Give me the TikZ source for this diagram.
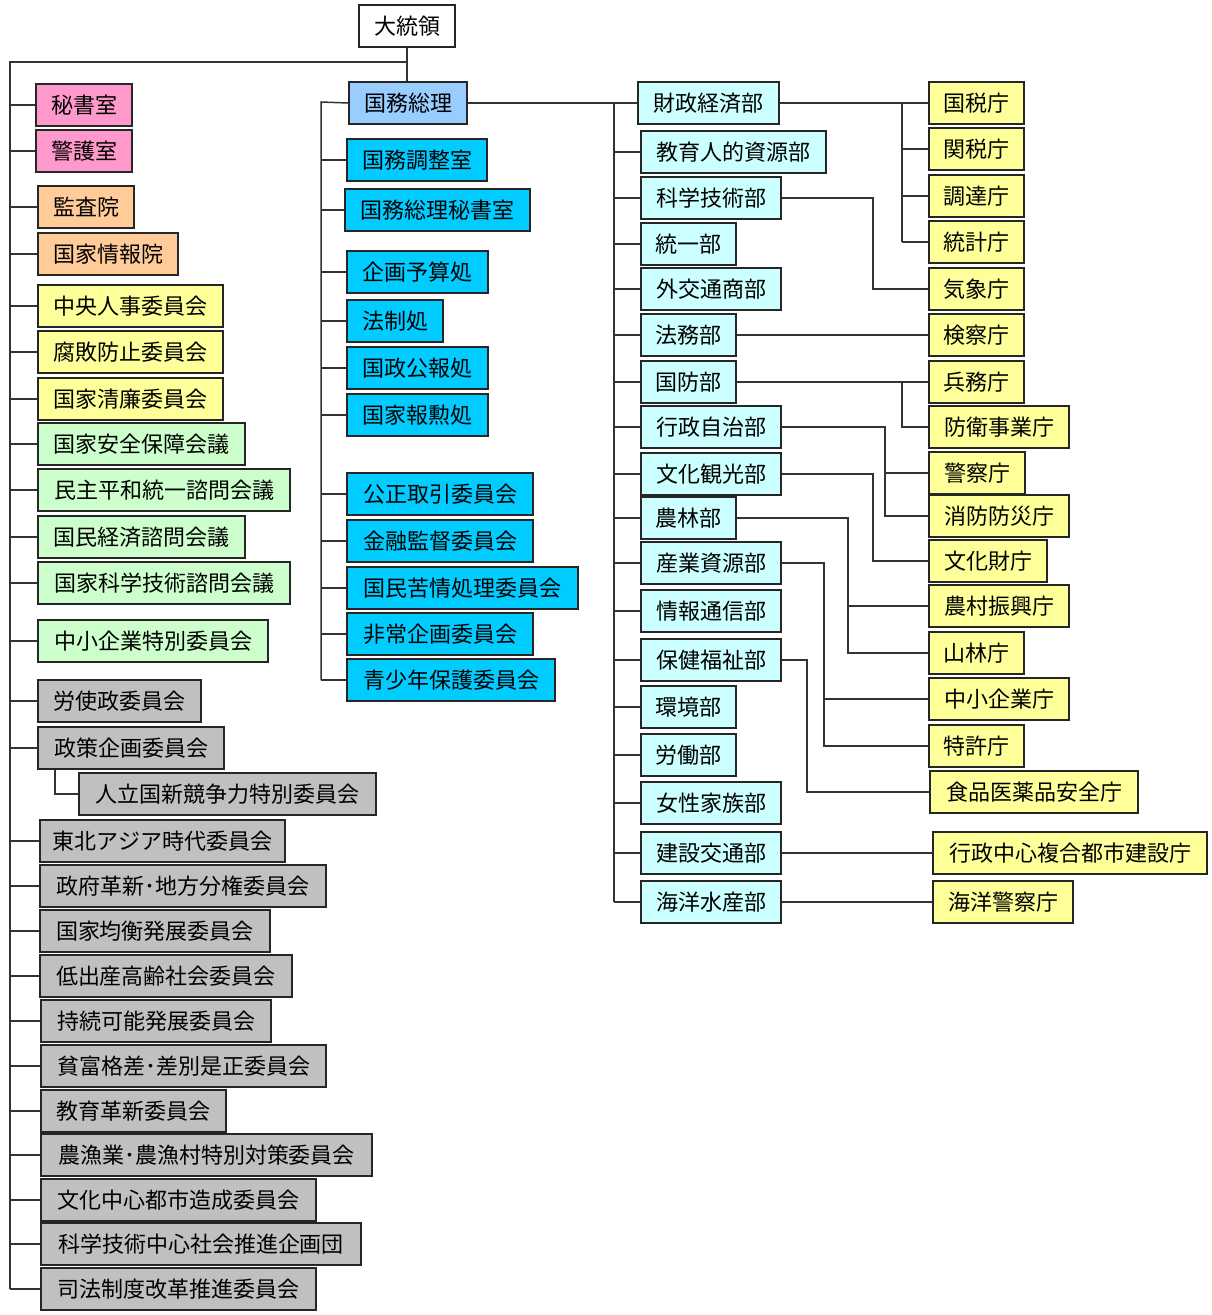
\documentclass[tikz,border=0pt]{standalone}
\usepackage{fontspec}
\newfontfamily\jp{Noto Sans CJK JP}
\definecolor{pinkbox}{HTML}{FF99CC}
\definecolor{orangebox}{HTML}{FFCC99}
\definecolor{yellowbox}{HTML}{FFFF99}
\definecolor{greenbox}{HTML}{CCFFCC}
\definecolor{greybox}{HTML}{C0C0C0}
\definecolor{pmbox}{HTML}{99CCFF}
\definecolor{bluebox}{HTML}{00CCFF}
\definecolor{cyanbox}{HTML}{CCFFFF}
\begin{document}
\begin{tikzpicture}[x=1pt, y=-1pt,
    box/.style={draw=black!85, line width=2pt, anchor=north west, minimum height=42pt,
      inner sep=0pt, font=\jp\fontsize{22pt}{26pt}\selectfont},
    conn/.style={draw=black!80, line width=1.5pt}]
    \useasboundingbox (0,0) rectangle (1211,1315);

    % president and prime minister
    \node (P) [box, fill=white, minimum width=96pt] at (358,4) {大統領};
    \node (PM) [box, fill=pmbox, minimum width=118pt] at (348,81) {国務総理};

    % left column
    \node (L1) [box, fill=pinkbox, minimum width=96pt] at (35,83) {秘書室};
    \node (L2) [box, fill=pinkbox, minimum width=96pt] at (35,129) {警護室};
    \node (L3) [box, fill=orangebox, minimum width=96pt] at (37,185) {監査院};
    \node (L4) [box, fill=orangebox, minimum width=140pt] at (37,232) {国家情報院};
    \node (L5) [box, fill=yellowbox, minimum width=185pt] at (37,284) {中央人事委員会};
    \node (L6) [box, fill=yellowbox, minimum width=185pt] at (37,330) {腐敗防止委員会};
    \node (L7) [box, fill=yellowbox, minimum width=185pt] at (37,377) {国家清廉委員会};
    \node (L8) [box, fill=greenbox, minimum width=207pt] at (37,422) {国家安全保障会議};
    \node (L9) [box, fill=greenbox, minimum width=252pt] at (37,468) {民主平和統一諮問会議};
    \node (L10) [box, fill=greenbox, minimum width=207pt] at (37,515) {国民経済諮問会議};
    \node (L11) [box, fill=greenbox, minimum width=252pt] at (37,561) {国家科学技術諮問会議};
    \node (L12) [box, fill=greenbox, minimum width=230pt] at (37,619) {中小企業特別委員会};
    \node (L13) [box, fill=greybox, minimum width=163pt] at (37,679) {労使政委員会};
    \node (L14) [box, fill=greybox, minimum width=186pt] at (37,726) {政策企画委員会};
    \node (LS) [box, fill=greybox, minimum width=297pt] at (78,772) {人立国新競争力特別委員会};
    \node (L15) [box, fill=greybox, minimum width=245pt] at (39,819) {東北アジア時代委員会};
    \node (L16) [box, fill=greybox, minimum width=286pt] at (39,864) {政府革新･地方分権委員会};
    \node (L17) [box, fill=greybox, minimum width=230pt] at (39,909) {国家均衡発展委員会};
    \node (L18) [box, fill=greybox, minimum width=252pt] at (39,954) {低出産高齢社会委員会};
    \node (L19) [box, fill=greybox, minimum width=230pt] at (40,999) {持続可能発展委員会};
    \node (L20) [box, fill=greybox, minimum width=285pt] at (40,1044) {貧富格差･差別是正委員会};
    \node (L21) [box, fill=greybox, minimum width=185pt] at (40,1089) {教育革新委員会};
    \node (L22) [box, fill=greybox, minimum width=331pt] at (40,1133) {農漁業･農漁村特別対策委員会};
    \node (L23) [box, fill=greybox, minimum width=275pt] at (40,1178) {文化中心都市造成委員会};
    \node (L24) [box, fill=greybox, minimum width=320pt] at (40,1222) {科学技術中心社会推進企画団};
    \node (L25) [box, fill=greybox, minimum width=275pt] at (40,1267) {司法制度改革推進委員会};

    % prime minister's offices
    \node (C1) [box, fill=bluebox, minimum width=140pt] at (346,138) {国務調整室};
    \node (C2) [box, fill=bluebox, minimum width=185pt] at (344,188) {国務総理秘書室};
    \node (C3) [box, fill=bluebox, minimum width=141pt] at (346,250) {企画予算処};
    \node (C4) [box, fill=bluebox, minimum width=96pt] at (346,299) {法制処};
    \node (C5) [box, fill=bluebox, minimum width=141pt] at (346,346) {国政公報処};
    \node (C6) [box, fill=bluebox, minimum width=141pt] at (346,393) {国家報勲処};
    \node (C7) [box, fill=bluebox, minimum width=186pt] at (346,472) {公正取引委員会};
    \node (C8) [box, fill=bluebox, minimum width=186pt] at (346,519) {金融監督委員会};
    \node (C9) [box, fill=bluebox, minimum width=231pt] at (346,566) {国民苦情処理委員会};
    \node (C10) [box, fill=bluebox, minimum width=186pt] at (346,612) {非常企画委員会};
    \node (C11) [box, fill=bluebox, minimum width=208pt] at (346,658) {青少年保護委員会};

    % ministries
    \node (M1) [box, fill=cyanbox, minimum width=141pt] at (637,81) {財政経済部};
    \node (M2) [box, fill=cyanbox, minimum width=185pt] at (640,130) {教育人的資源部};
    \node (M3) [box, fill=cyanbox, minimum width=140pt] at (640,176) {科学技術部};
    \node (M4) [box, fill=cyanbox, minimum width=95pt] at (640,222) {統一部};
    \node (M5) [box, fill=cyanbox, minimum width=140pt] at (640,267) {外交通商部};
    \node (M6) [box, fill=cyanbox, minimum width=95pt] at (640,313) {法務部};
    \node (M7) [box, fill=cyanbox, minimum width=95pt] at (640,360) {国防部};
    \node (M8) [box, fill=cyanbox, minimum width=140pt] at (640,405) {行政自治部};
    \node (M9) [box, fill=cyanbox, minimum width=140pt] at (640,452) {文化観光部};
    \node (M10) [box, fill=cyanbox, minimum width=95pt] at (640,496) {農林部};
    \node (M11) [box, fill=cyanbox, minimum width=140pt] at (640,541) {産業資源部};
    \node (M12) [box, fill=cyanbox, minimum width=140pt] at (640,589) {情報通信部};
    \node (M13) [box, fill=cyanbox, minimum width=140pt] at (640,638) {保健福祉部};
    \node (M14) [box, fill=cyanbox, minimum width=95pt] at (640,685) {環境部};
    \node (M15) [box, fill=cyanbox, minimum width=95pt] at (640,733) {労働部};
    \node (M16) [box, fill=cyanbox, minimum width=140pt] at (640,781) {女性家族部};
    \node (M17) [box, fill=cyanbox, minimum width=140pt] at (640,831) {建設交通部};
    \node (M18) [box, fill=cyanbox, minimum width=140pt] at (640,880) {海洋水産部};

    % agencies
    \node (A1) [box, fill=yellowbox, minimum width=95pt] at (928,81) {国税庁};
    \node (A2) [box, fill=yellowbox, minimum width=95pt] at (928,127) {関税庁};
    \node (A3) [box, fill=yellowbox, minimum width=95pt] at (928,174) {調達庁};
    \node (A4) [box, fill=yellowbox, minimum width=95pt] at (928,220) {統計庁};
    \node (A5) [box, fill=yellowbox, minimum width=95pt] at (928,267) {気象庁};
    \node (A6) [box, fill=yellowbox, minimum width=95pt] at (928,313) {検察庁};
    \node (A7) [box, fill=yellowbox, minimum width=95pt] at (928,360) {兵務庁};
    \node (A8) [box, fill=yellowbox, minimum width=140pt] at (928,405) {防衛事業庁};
    \node (A9) [box, fill=yellowbox, minimum width=96pt] at (928,451) {警察庁};
    \node (A10) [box, fill=yellowbox, minimum width=140pt] at (928,494) {消防防災庁};
    \node (A11) [box, fill=yellowbox, minimum width=118pt] at (928,539) {文化財庁};
    \node (A12) [box, fill=yellowbox, minimum width=140pt] at (928,584) {農村振興庁};
    \node (A13) [box, fill=yellowbox, minimum width=95pt] at (928,631) {山林庁};
    \node (A14) [box, fill=yellowbox, minimum width=140pt] at (928,677) {中小企業庁};
    \node (A15) [box, fill=yellowbox, minimum width=95pt] at (928,724) {特許庁};
    \node (A16) [box, fill=yellowbox, minimum width=208pt] at (929,770) {食品医薬品安全庁};
    \node (A17) [box, fill=yellowbox, minimum width=274pt] at (932,831) {行政中心複合都市建設庁};
    \node (A18) [box, fill=yellowbox, minimum width=140pt] at (932,880) {海洋警察庁};

    % trunks
    \coordinate (ltop) at (10,62);
    \coordinate (ctop) at (321,102);
    \coordinate (mtop) at (614,102);
    \draw[conn] (P.south) -- (P.south |- PM.north);
    \draw[conn] (P.south |- ltop) -- (ltop) -- (ltop |- L25.west);
    \foreach \i in {1,...,25}
        \draw[conn] (ltop |- L\i.west) -- (L\i.west);
    \draw[conn] ([xshift=18pt]L14.south west) |- (LS.west);

    \draw[conn] (PM.west) -- (ctop) -- (ctop |- C11.west);
    \foreach \i in {1,...,11}
        \draw[conn] (ctop |- C\i.west) -- (C\i.west);

    \draw[conn] (PM.east) -- (M1.west);
    \draw[conn] (mtop) -- (mtop |- M18.west);
    \foreach \i in {2,...,18}
        \draw[conn] (mtop |- M\i.west) -- (M\i.west);

    % ministries to agencies
    \draw[conn] (M1.east) -- (A1.west);
    \draw[conn] ([xshift=-26pt]A1.west) -- ([xshift=-26pt]A4.west);
    \foreach \i in {2,3,4}
        \draw[conn] ([xshift=-26pt]A\i.west) -- (A\i.west);
    \draw[conn] (M3.east) -| ([xshift=-55pt]A5.west) -- (A5.west);
    \draw[conn] (M6.east) -- (A6.west);
    \draw[conn] (M7.east) -- (A7.west);
    \draw[conn] ([xshift=-26pt]A7.west) |- (A8.west);
    \draw[conn] (M8.east) -| ([xshift=-43pt]A10.west) -- (A10.west);
    \draw[conn] ([xshift=-43pt]A9.west) -- (A9.west);
    \draw[conn] (M9.east) -| ([xshift=-55pt]A11.west) -- (A11.west);
    \draw[conn] (M10.east) -| ([xshift=-80pt]A13.west) -- (A13.west);
    \draw[conn] ([xshift=-80pt]A12.west) -- (A12.west);
    \draw[conn] (M11.east) -| ([xshift=-104pt]A15.west) -- (A15.west);
    \draw[conn] ([xshift=-104pt]A14.west) -- (A14.west);
    \draw[conn] (M13.east) -| ([xshift=-122pt]A16.west) -- (A16.west);
    \draw[conn] (M17.east) -- (A17.west);
    \draw[conn] (M18.east) -- (A18.west);
\end{tikzpicture}
\end{document}
